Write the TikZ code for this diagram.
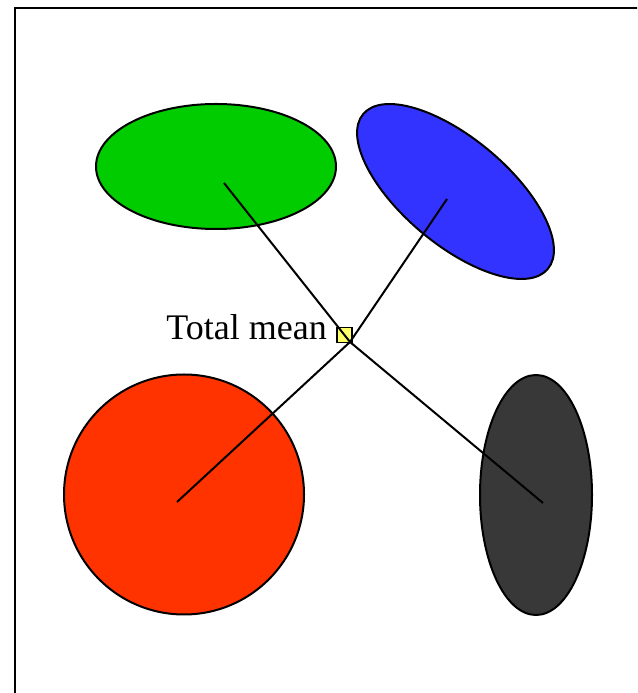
\documentclass[tikz,border=0pt]{standalone}
\usepackage{fontspec}
\setmainfont{Liberation Serif}
\usetikzlibrary{shapes.geometric}
\definecolor{cgreen}{HTML}{00CC00}
\definecolor{cblue}{HTML}{3333FF}
\definecolor{cred}{HTML}{FF3300}
\definecolor{cdark}{HTML}{383838}
\definecolor{cyel}{HTML}{FFFF66}
\tikzset{
  blob/.style={ellipse, draw=black, line width=2pt, inner sep=0pt},
  link/.style={draw=black, line width=2pt},
  meanbox/.style={rectangle, draw=black, line width=1.4pt, fill=cyel, minimum size=15pt, inner sep=0pt}
}
\begin{document}
\begin{tikzpicture}[x=1pt,y=1pt]
\useasboundingbox (0,0) rectangle (637,693);
\clip (0,0) rectangle (637,693);
\fill[white] (0,0) rectangle (637,693);
\draw[line width=2.4pt] (15,-20) -- (15,685) -- (660,685);
\node[blob, fill=cgreen, minimum width=240pt, minimum height=125pt] (green) at (216,526.5) {};
\node[blob, fill=cblue, minimum width=241pt, minimum height=106pt, rotate=-40] (blue) at (455.5,501.5) {};
\node[blob, fill=cred, minimum width=240pt, minimum height=240pt] (red) at (184,198.5) {};
\node[blob, fill=cdark, minimum width=112pt, minimum height=240pt] (dark) at (536,198) {};
\coordinate (g) at (224,510);
\coordinate (b) at (447,494);
\coordinate (r) at (177,191);
\coordinate (d) at (543,190);
\coordinate (m) at (350,351);
\node[meanbox] (box) at (344.5,358) {};
\node[anchor=base east, inner sep=0pt, font=\fontsize{36}{40}\selectfont] (label) at (327,353) {Total mean};
\draw[link] (g) -- (m);
\draw[link] (b) -- (m);
\draw[link] (r) -- (m);
\draw[link] (d) -- (m);
\end{tikzpicture}
\end{document}
